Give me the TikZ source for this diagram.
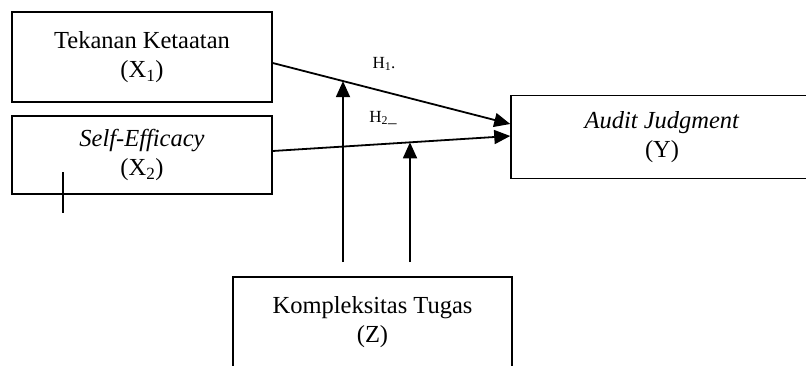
\documentclass[tikz,border=0pt]{standalone}
\usepackage{fontspec}
\setmainfont{Liberation Serif}
\usetikzlibrary{arrows.meta}
\tikzset{
  varbox/.style={draw, line width=1.5pt, rectangle, align=center, inner sep=0pt,
    font=\fontsize{24.5}{29}\selectfont},
  link/.style={line width=1.8pt, -{Triangle[length=16pt,width=14pt]}},
  hlabel/.style={font=\fontsize{17}{20}\selectfont, inner sep=0pt}
}
\begin{document}
\begin{tikzpicture}[x=1pt,y=-1pt]
  \useasboundingbox (0,0) rectangle (806,365);
  \clip (0,0) rectangle (806,365);

  % variable boxes
  \node[varbox, minimum width=260pt, minimum height=90pt] (x1) at (142,57)
    {Tekanan Ketaatan\\(X\textsubscript{1})};
  \node[varbox, minimum width=260pt, minimum height=78pt] (x2) at (142,155)
    {\textit{Self-Efficacy}\\(X\textsubscript{2})};
  \node[varbox, minimum width=302pt, minimum height=83pt] (y) at (662,137)
    {\textit{Audit Judgment}\\(Y)};
  \node[varbox, minimum width=279pt, minimum height=90pt] (z) at (372.5,322)
    {Kompleksitas Tugas\\(Z)};

  % moderator line bases below the direct paths
  \coordinate (m1) at (343,262);
  \coordinate (m2) at (410,262);

  % direct effects
  \draw[link] ([yshift=-6pt]x1.east) -- coordinate[pos=0.297] (p1) ([yshift=13pt]y.west);
  \draw[link] ([yshift=4pt]x2.east) -- coordinate[pos=0.577] (p2) ([yshift=1pt]y.west);

  % moderating effects
  \draw[link] (m1) -- (m1 |- p1);
  \draw[link] (m2) -- (m2 |- p2);

  % hypothesis labels
  \node[hlabel] (h1) at (384,64) {H\textsubscript{1}.};
  \node[hlabel] (h2) at (383,118) {H\textsubscript{2}\_};

  % short tick crossing the lower edge of the X2 box
  \draw[line width=1.5pt] (63,172) -- (63,213);
\end{tikzpicture}
\end{document}
